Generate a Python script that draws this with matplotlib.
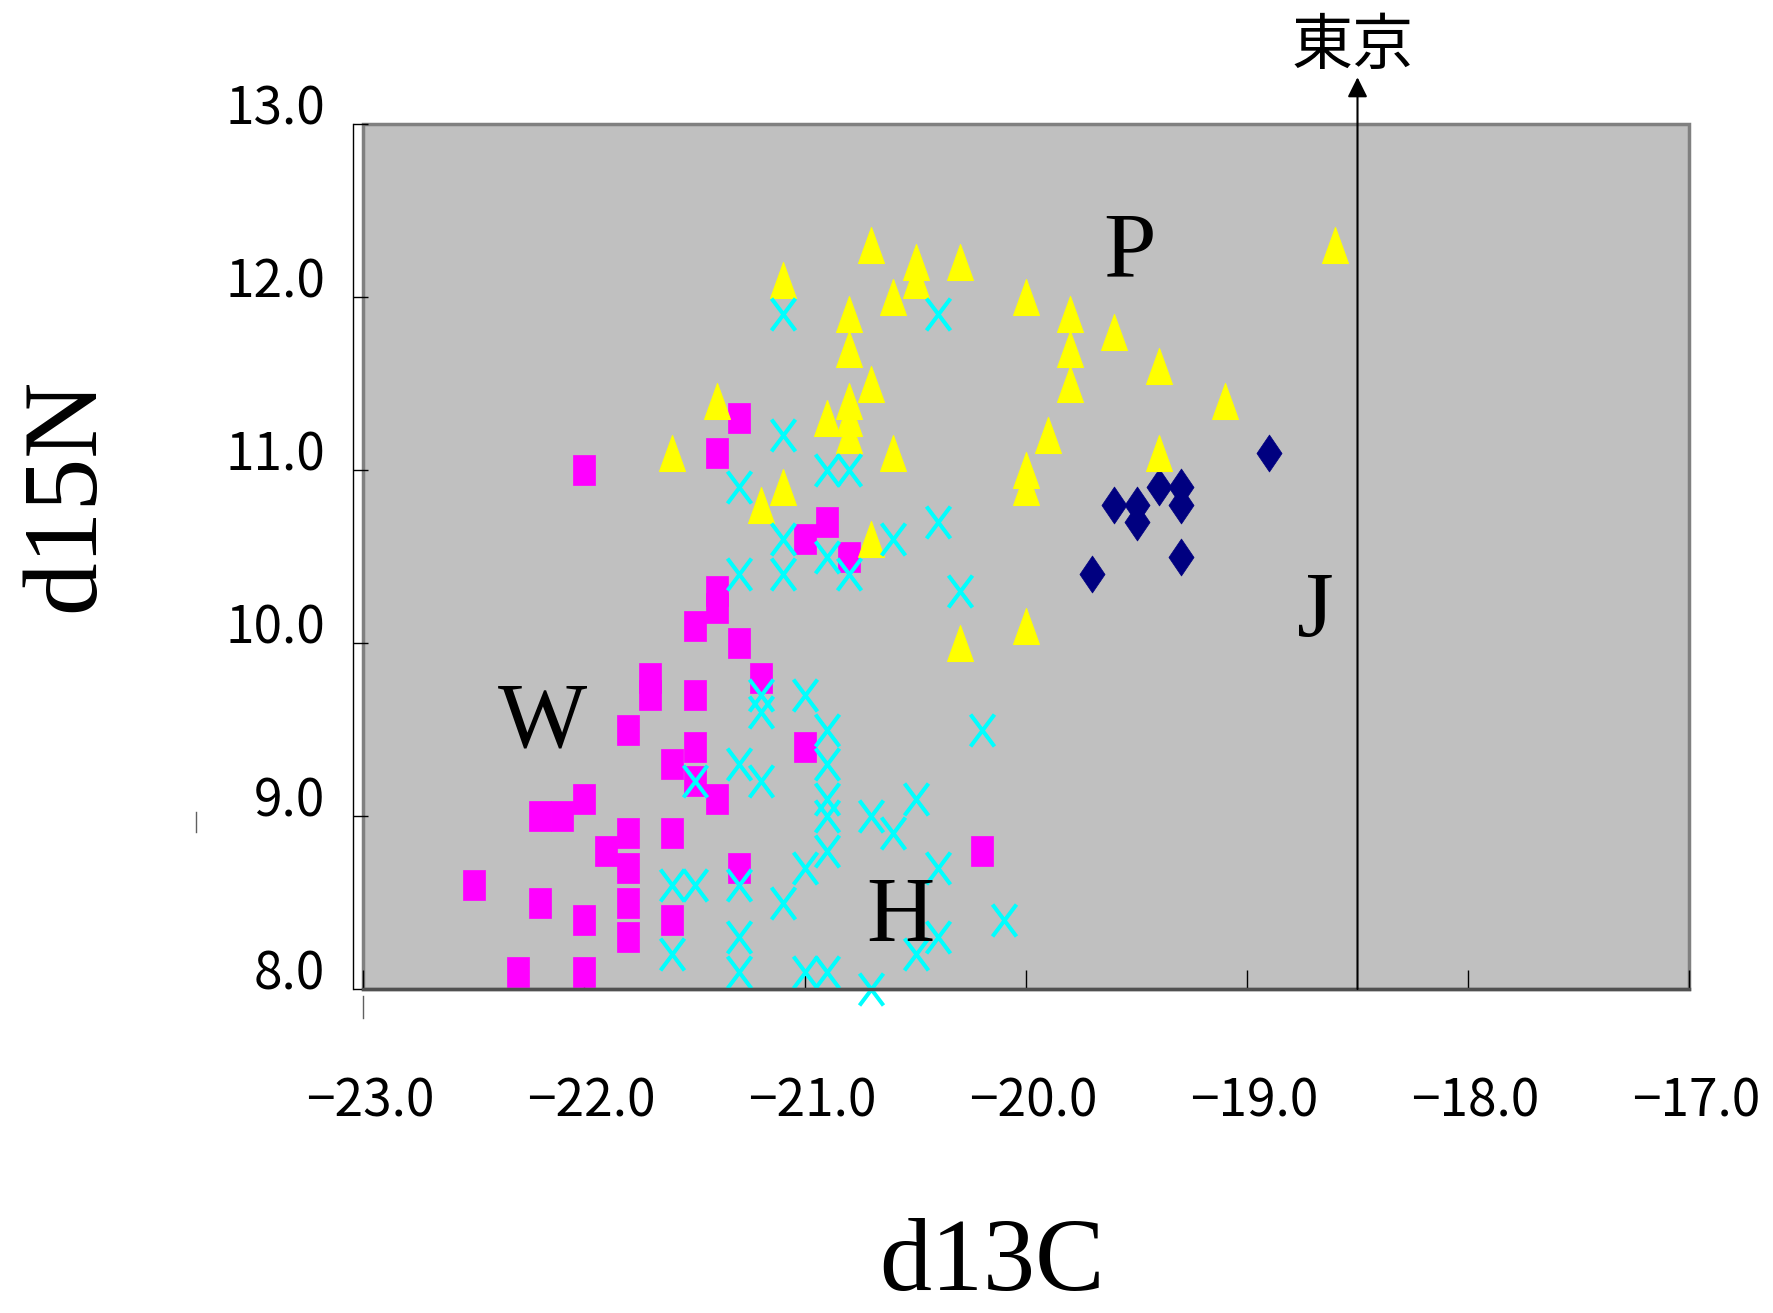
import matplotlib
matplotlib.use("Agg")
import matplotlib.pyplot as plt
from matplotlib.path import Path
from matplotlib.transforms import ScaledTranslation
from matplotlib.lines import Line2D

# J group (navy diamonds)
j_x = [-19.7, -19.6, -19.5, -19.5, -19.4, -19.3, -19.3, -19.3, -18.9]
j_y = [10.4, 10.8, 10.8, 10.7, 10.9, 10.9, 10.8, 10.5, 11.1]

# W group (magenta squares)
w_x = [-22.5, -22.3, -22.2, -22.2, -22.1, -22.0, -22.0, -22.0, -22.0, -21.9,
       -21.8, -21.8, -21.8, -21.8, -21.8, -21.7, -21.7, -21.6, -21.6, -21.6,
       -21.5, -21.5, -21.5, -21.5, -21.4, -21.4, -21.4, -21.4, -21.3, -21.3,
       -21.3, -21.2, -21.0, -21.0, -20.9, -20.8, -20.2]
w_y = [8.6, 8.1, 9.0, 8.5, 9.0, 11.0, 9.1, 8.4, 8.1, 8.8,
       9.5, 8.9, 8.7, 8.5, 8.3, 9.8, 9.7, 9.3, 8.9, 8.4,
       10.1, 9.7, 9.4, 9.2, 11.1, 10.3, 10.2, 9.1, 11.3, 10.0,
       8.7, 9.8, 10.6, 9.4, 10.7, 10.5, 8.8]

# P group (yellow triangles)
p_x = [-21.6, -21.4, -21.2, -21.1, -21.1, -20.9, -20.8, -20.8, -20.8, -20.8,
       -20.8, -20.7, -20.7, -20.7, -20.6, -20.6, -20.5, -20.5, -20.3, -20.3,
       -20.0, -20.0, -20.0, -20.0, -19.9, -19.8, -19.8, -19.8, -19.6, -19.4,
       -19.4, -19.1, -18.6]
p_y = [11.1, 11.4, 10.8, 12.1, 10.9, 11.3, 11.9, 11.7, 11.4, 11.3,
       11.2, 12.3, 11.5, 10.6, 12.0, 11.1, 12.2, 12.1, 12.2, 10.0,
       12.0, 11.0, 10.9, 10.1, 11.2, 11.9, 11.7, 11.5, 11.8, 11.6,
       11.1, 11.4, 12.3]

# H group (cyan crosses)
h_x = [-21.1, -20.4, -21.1, -20.9, -20.8, -21.3, -20.4, -21.1, -20.6, -20.9,
       -21.3, -21.1, -20.8, -20.3, -21.2, -21.2, -21.0, -20.9, -20.2, -20.9,
       -21.3, -21.2, -21.5, -20.9, -20.5, -20.9, -20.7, -20.6, -20.9, -21.0,
       -20.4, -21.6, -21.5, -21.3, -21.1, -20.1, -21.3, -20.4, -21.6, -20.5,
       -21.3, -21.0, -20.9, -20.7]
h_y = [11.9, 11.9, 11.2, 11.0, 11.0, 10.9, 10.7, 10.6, 10.6, 10.5,
       10.4, 10.4, 10.4, 10.3, 9.7, 9.6, 9.7, 9.5, 9.5, 9.3,
       9.3, 9.2, 9.2, 9.1, 9.1, 9.0, 9.0, 8.9, 8.8, 8.7,
       8.7, 8.6, 8.6, 8.6, 8.5, 8.4, 8.3, 8.3, 8.2, 8.2,
       8.1, 8.1, 8.1, 8.0]

xticks = [-23, -22, -21, -20, -19, -18, -17]
xtick_labels = ["\u221223.0", "\u221222.0", "\u221221.0", "\u221220.0",
                "\u221219.0", "\u221218.0", "\u221217.0"]
yticks = [8, 9, 10, 11, 12, 13]
ytick_labels = ["8.0", "9.0", "10.0", "11.0", "12.0", "13.0"]

W, H = 1774, 1313
fig = plt.figure(figsize=(W / 100, H / 100), dpi=100)
ax = fig.add_axes([363 / W, 1 - 989 / H, 1326 / W, 865 / H])
ax.set_xlim(-23, -17)
ax.set_ylim(8, 13)
ax.patch.set_facecolor("#C0C0C0")
ax.patch.set_edgecolor("#808080")
ax.patch.set_linewidth(2.5)

# marker shapes (Excel markers are taller than wide here)
sq = Path([(-0.355, -0.5), (0.355, -0.5), (0.355, 0.5), (-0.355, 0.5), (-0.355, -0.5)], closed=True)
tri = Path([(0, 0.5), (0.36, -0.5), (-0.36, -0.5), (0, 0.5)], closed=True)
dia = Path([(0, 0.5), (0.34, 0), (0, -0.5), (-0.34, 0), (0, 0.5)], closed=True)
xm = Path([(-0.375, -0.5), (0.375, 0.5), (-0.375, 0.5), (0.375, -0.5)],
          [Path.MOVETO, Path.LINETO, Path.MOVETO, Path.LINETO])

ax.plot(j_x, j_y, ls="none", marker=dia, ms=26.6, mfc="#000080", mec="#000080", mew=0.5, clip_on=False)
ax.plot(w_x, w_y, ls="none", marker=sq, ms=22.3, mfc="#FF00FF", mec="#FF00FF", mew=0.5, clip_on=False)
ax.plot(p_x, p_y, ls="none", marker=tri, ms=25.9, mfc="#FFFF00", mec="#FFFF00", mew=0.8, clip_on=False)
ax.plot(h_x, h_y, ls="none", marker=xm, ms=23, mfc="none", mec="#00FFFF", mew=2.9, clip_on=False)

for s in ["top", "right"]:
    ax.spines[s].set_visible(False)
ax.spines["left"].set_position(("outward", 7.2))
ax.spines["left"].set_color("black")
ax.spines["left"].set_linewidth(1)
ax.spines["bottom"].set_color("#505050")
ax.spines["bottom"].set_linewidth(2.5)

tick_font = dict(family=["Noto Sans CJK JP", "DejaVu Sans"], size=37)
ax.set_xticks(xticks)
ax.set_xticklabels(xtick_labels, fontdict=tick_font)
ax.set_yticks(yticks)
ax.set_yticklabels(ytick_labels, fontdict=tick_font)
ax.tick_params(axis="y", direction="in", length=11, width=1, pad=20, color="black")
ax.tick_params(axis="x", direction="in", length=14, width=1, pad=62, color="black")

# Excel draws value labels a little off their ticks
up = ScaledTranslation(0, 20 / 100, fig.dpi_scale_trans)
right = ScaledTranslation(7 / 100, 0, fig.dpi_scale_trans)
for lab in ax.get_yticklabels():
    lab.set_transform(lab.get_transform() + up)
for lab in ax.get_xticklabels():
    lab.set_transform(lab.get_transform() + right)

serif = ["Liberation Serif", "DejaVu Serif"]
fig.text(992 / W, 1 - 1290 / H, "d13C", family=serif, size=75, ha="center", va="baseline")
fig.text(93 / W, 1 - 495 / H, "d15N", family=serif, size=76, rotation=90,
         rotation_mode="anchor", ha="center", va="baseline")

# group letters
ax.text(-19.53, 12.12, "P", family=serif, size=68, ha="center", va="baseline")
ax.text(-18.69, 10.04, "J", family=serif, size=68, ha="center", va="baseline")
ax.text(-22.19, 9.40, "W", family=serif, size=68, ha="center", va="baseline")
ax.text(-20.57, 8.28, "H", family=serif, size=68, ha="center", va="baseline")

# Tokyo arrow
ax.annotate("", xy=(-18.5, 13.27), xytext=(-18.5, 8.0),
            arrowprops=dict(arrowstyle="-|>", color="black", lw=1.5, mutation_scale=30,
                            shrinkA=0, shrinkB=0),
            annotation_clip=False)
fig.text(1353 / W, 1 - 64 / H, "東京", family=["Noto Sans CJK JP", "DejaVu Sans"],
         size=44, ha="center", va="baseline")

# stray tick marks left over from the original chart
fig.add_artist(Line2D([363 / W, 363 / W], [1 - 996 / H, 1 - 1018 / H], color="#606060", lw=1))
fig.add_artist(Line2D([196 / W, 196 / W], [1 - 812 / H, 1 - 832 / H], color="#606060", lw=1))

fig.savefig("out.png", dpi=100, facecolor="white")
